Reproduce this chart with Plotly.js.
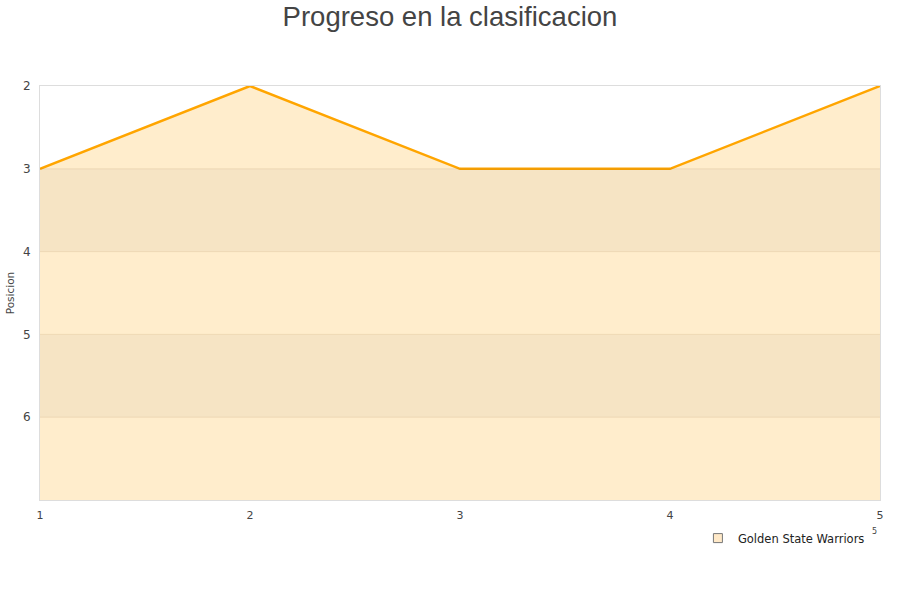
<!DOCTYPE html>
<html>
<head>
<meta charset="utf-8">
<script src="https://cdn.plot.ly/plotly-3.0.1.min.js"></script>
<style>html,body{margin:0;padding:0;background:#fff}#chart{width:900px;height:600px}</style>
</head>
<body>
<div id="chart"></div>
<script>
var jornadas = [1, 2, 3, 4, 5];
var posicion = [3, 2, 3, 3, 2];
var seriesName = "Golden State Warriors";
var yTicks = [2, 3, 4, 5, 6];
var bottomPos = 7;
var bands = [[3, 4], [5, 6]];

var base = {
  x: jornadas,
  y: jornadas.map(function(){ return bottomPos; }),
  mode: 'lines', line: {width: 0, color: 'rgba(0,0,0,0)'},
  showlegend: false, hoverinfo: 'skip'
};
var main = {
  x: jornadas, y: posicion, mode: 'lines', fill: 'tonexty',
  fillcolor: 'rgb(255,237,204)',
  line: {color: '#FFA500', width: 2.5},
  name: seriesName, showlegend: false
};
var legendTrace = {
  x: [null], y: [null], mode: 'markers', name: seriesName,
  marker: {symbol: 'square', size: 9, color: 'rgb(255,233,200)', line: {color: '#777', width: 1}}
};

var shapes = bands.map(function(b){
  return {type: 'rect', xref: 'paper', yref: 'y', x0: 0, x1: 1, y0: b[0], y1: b[1],
    fillcolor: 'rgba(0,0,0,0.035)', line: {width: 0}, layer: 'above'};
});
yTicks.slice(1).forEach(function(v){
  shapes.push({type: 'line', xref: 'paper', yref: 'y', x0: 0, x1: 1, y0: v, y1: v,
    line: {color: 'rgba(150,110,50,0.12)', width: 1}, layer: 'above'});
});

var layout = {
  width: 900, height: 600,
  margin: {l: 40, r: 20, t: 86, b: 100},
  paper_bgcolor: '#fff', plot_bgcolor: '#fff',
  font: {family: 'DejaVu Sans, sans-serif', color: '#444', size: 10},
  title: {text: 'Progreso en la clasificacion', x: 0.5, xanchor: 'center', y: 0.988, yanchor: 'top',
    font: {family: 'Liberation Sans, Arial, sans-serif', size: 27.5, color: '#444'}},
  xaxis: {range: [1, 5], tickvals: jornadas, ticks: '', showgrid: false, zeroline: false,
    showline: true, linecolor: '#ddd', mirror: true, ticklabelstandoff: 5,
    tickfont: {size: 11, color: '#444'}},
  yaxis: {range: [bottomPos, 2], tickvals: yTicks, ticks: '', showgrid: false, zeroline: false,
    showline: true, linecolor: '#ddd', mirror: true, ticklabelstandoff: 6,
    tickfont: {size: 12, color: '#444'},
    title: {text: 'Posicion', font: {size: 10.5, color: '#444'}, standoff: 6}},
  legend: {orientation: 'h', x: 0.988, xanchor: 'right', y: -0.057, yanchor: 'top',
    font: {size: 11.5, color: '#222'}, bgcolor: 'rgba(0,0,0,0)', itemwidth: 30},
  shapes: shapes,
  annotations: [{xref: 'paper', yref: 'paper', x: 0.994, y: -0.077, xanchor: 'center', yanchor: 'middle',
    text: '5', showarrow: false, font: {size: 8, color: '#444'}}]
};

Plotly.newPlot('chart', [base, main, legendTrace], layout, {displayModeBar: false, staticPlot: true});
</script>
</body>
</html>
